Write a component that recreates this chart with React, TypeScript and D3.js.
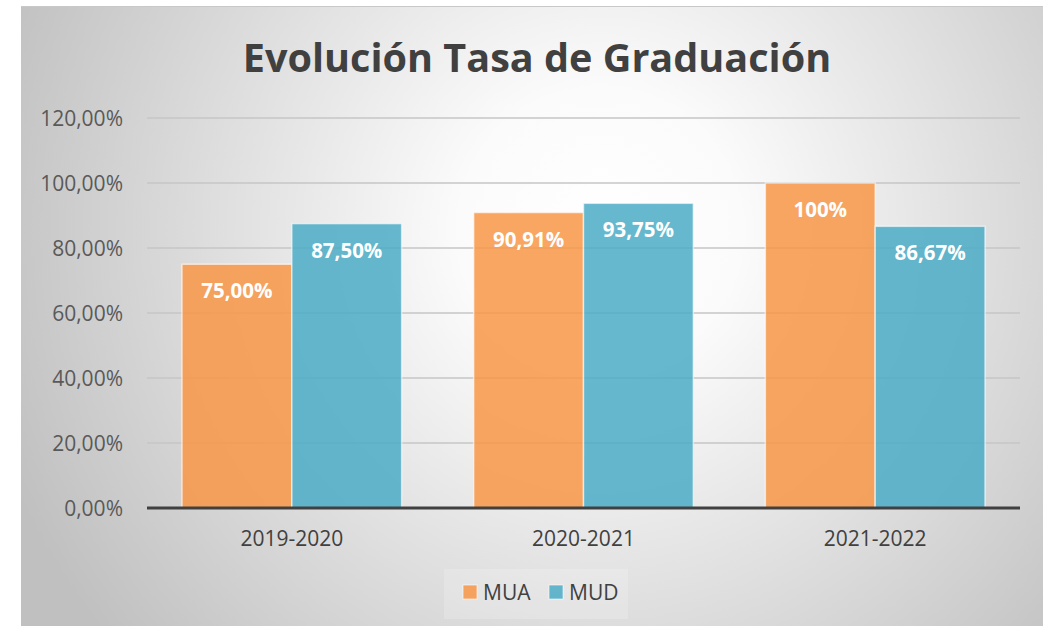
import { useEffect, useRef } from "react";
import * as d3 from "d3";

const categories = ["2019-2020", "2020-2021", "2021-2022"];
const seriesNames = ["MUA", "MUD"];
const muaValues = [75.0, 90.91, 100];
const mudValues = [87.5, 93.75, 86.67];
const muaLabels = ["75,00%", "90,91%", "100%"];
const mudLabels = ["87,50%", "93,75%", "86,67%"];
const yTicks = [0, 20, 40, 60, 80, 100, 120];
const yTickLabels = ["0,00%", "20,00%", "40,00%", "60,00%", "80,00%", "100,00%", "120,00%"];
const colors = ["#F79646", "#4BACC6"];

const App = () => {
  const svgRef = useRef<SVGSVGElement | null>(null);

  useEffect(() => {
    const svg = d3.select(svgRef.current);
    svg.selectAll("*").remove();

    const W = 1043;
    const H = 626;
    const font = "'Open Sans', sans-serif";

    const defs = svg.append("defs");
    const grad = defs
      .append("radialGradient")
      .attr("id", "bg")
      .attr("gradientUnits", "userSpaceOnUse")
      .attr("cx", 600)
      .attr("cy", 230)
      .attr("r", 640);
    grad.append("stop").attr("offset", "0%").attr("stop-color", "#ffffff");
    grad.append("stop").attr("offset", "22%").attr("stop-color", "#fbfbfb");
    grad.append("stop").attr("offset", "100%").attr("stop-color", "#c0c0c0");

    svg.append("rect").attr("width", W).attr("height", H).attr("fill", "#fff");
    svg
      .append("rect")
      .attr("x", 21)
      .attr("y", 6)
      .attr("width", W - 21)
      .attr("height", H - 6)
      .attr("fill", "url(#bg)");
    svg
      .append("line")
      .attr("x1", 21)
      .attr("x2", W)
      .attr("y1", 6.5)
      .attr("y2", 6.5)
      .attr("stroke", "#c8c8c8");

    svg
      .append("text")
      .attr("x", 537)
      .attr("y", 72)
      .attr("text-anchor", "middle")
      .attr("font-family", font)
      .attr("font-weight", 700)
      .attr("font-size", 39.6)
      .attr("fill", "#404040")
      .text("Evolución Tasa de Graduación");

    const left = 147;
    const right = 1020;
    const y = d3.scaleLinear().domain([0, 120]).range([508, 118]);
    const x = d3.scaleBand().domain(categories).range([left, right]).paddingInner(0.247).paddingOuter(0.12);
    const xs = d3.scaleBand().domain(seriesNames).range([0, x.bandwidth()]);

    const grid = svg.append("g");
    yTicks.forEach((t, i) => {
      if (t !== 0) {
        grid
          .append("line")
          .attr("x1", left)
          .attr("x2", right)
          .attr("y1", y(t))
          .attr("y2", y(t))
          .attr("stroke", "#c6c6c6")
          .attr("stroke-width", 1.3);
      }
      grid
        .append("text")
        .attr("x", 123)
        .attr("y", y(t) + 7.5)
        .attr("text-anchor", "end")
        .attr("font-family", font)
        .attr("font-size", 21)
        .attr("fill", "#595959")
        .text(yTickLabels[i]);
    });

    const series = [
      { name: seriesNames[0], values: muaValues, labels: muaLabels, color: colors[0] },
      { name: seriesNames[1], values: mudValues, labels: mudLabels, color: colors[1] },
    ];

    series.forEach((s) => {
      const g = svg.append("g");
      g.selectAll("rect")
        .data(categories)
        .enter()
        .append("rect")
        .attr("x", (c) => (x(c) || 0) + (xs(s.name) || 0))
        .attr("y", (_c, i) => y(s.values[i]))
        .attr("width", xs.bandwidth())
        .attr("height", (_c, i) => y(0) - y(s.values[i]))
        .attr("fill", s.color)
        .attr("fill-opacity", 0.85)
        .attr("stroke", "#ffffff")
        .attr("stroke-opacity", 0.6)
        .attr("stroke-width", 1.5);
      g.selectAll("text")
        .data(categories)
        .enter()
        .append("text")
        .attr("x", (c) => (x(c) || 0) + (xs(s.name) || 0) + xs.bandwidth() / 2)
        .attr("y", (_c, i) => y(s.values[i]) + 34)
        .attr("text-anchor", "middle")
        .attr("font-family", font)
        .attr("font-weight", 700)
        .attr("font-size", 20.5)
        .attr("fill", "#ffffff")
        .text((_c, i) => s.labels[i]);
    });

    svg
      .append("line")
      .attr("x1", left)
      .attr("x2", right)
      .attr("y1", y(0))
      .attr("y2", y(0))
      .attr("stroke", "#404040")
      .attr("stroke-width", 3);

    categories.forEach((c) => {
      svg
        .append("text")
        .attr("x", (x(c) || 0) + x.bandwidth() / 2)
        .attr("y", 546)
        .attr("text-anchor", "middle")
        .attr("font-family", font)
        .attr("font-size", 21)
        .attr("fill", "#404040")
        .text(c);
    });

    const legend = svg.append("g");
    legend
      .append("rect")
      .attr("x", 444)
      .attr("y", 569)
      .attr("width", 184)
      .attr("height", 50)
      .attr("fill", "#ffffff")
      .attr("fill-opacity", 0.18);
    const legendX = [463, 549];
    series.forEach((s, i) => {
      legend
        .append("rect")
        .attr("x", legendX[i])
        .attr("y", 585)
        .attr("width", 14)
        .attr("height", 14)
        .attr("fill", s.color)
        .attr("fill-opacity", 0.85)
        .attr("stroke", "#ffffff")
        .attr("stroke-opacity", 0.6);
      legend
        .append("text")
        .attr("x", legendX[i] + 20)
        .attr("y", 600)
        .attr("font-family", font)
        .attr("font-size", 21)
        .attr("fill", "#404040")
        .text(s.name);
    });
  }, []);

  return (
    <svg
      ref={svgRef}
      width={1043}
      height={626}
      style={{ position: "absolute", left: 0, top: 0 }}
    />
  );
};

export default App;
